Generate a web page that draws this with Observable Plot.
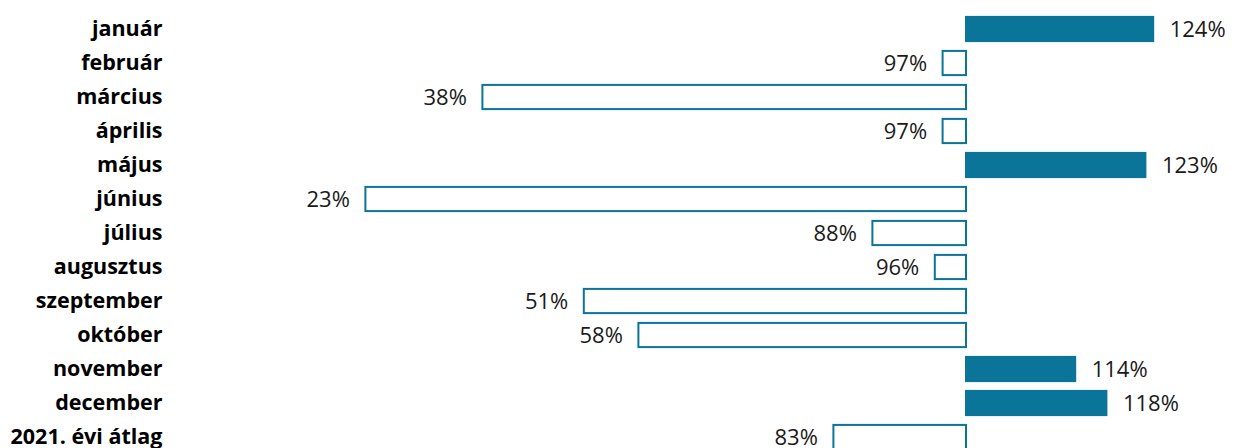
<!DOCTYPE html>
<html>
<head>
<meta charset="utf-8">
<script src="https://cdn.jsdelivr.net/npm/d3@7"></script>
<script src="https://cdn.jsdelivr.net/npm/@observablehq/plot@0.6"></script>
<style>
  html, body { margin: 0; padding: 0; background: #fff; overflow: hidden; }
</style>
</head>
<body>
<div id="chart"></div>
<script>
const months = ["január", "február", "március", "április", "május", "június", "július", "augusztus", "szeptember", "október", "november", "december", "2021. évi átlag"];
const values = [124, 97, 38, 97, 123, 23, 88, 96, 51, 58, 114, 118, 83];
const baseline = 100;

const data = months.map((m, i) => ({month: m, value: values[i]}));
const color = "#0a7499";

const chart = Plot.plot({
  width: 1234,
  height: 448,
  marginTop: 10,
  marginBottom: 0,
  marginLeft: 186,
  marginRight: 34,
  style: {fontFamily: "'Open Sans', sans-serif", fontSize: "21px", background: "#fff", overflow: "hidden"},
  x: {domain: [0, 130], axis: null},
  y: {domain: months, padding: 0, range: [10, 456], axis: null},
  marks: [
    Plot.barX(data, {
      y: "month", x1: baseline, x2: "value",
      insetTop: 4.9, insetBottom: 4.9,
      fill: d => d.value >= baseline ? color : "#fff",
      stroke: color, strokeWidth: 2
    }),
    Plot.text(months, {
      x: 0, y: d => d, text: d => d,
      textAnchor: "end", dx: -24, fontWeight: "bold", fontSize: 21.5, fill: "#000"
    }),
    Plot.text(data.filter(d => d.value >= baseline), {
      x: "value", y: "month", text: d => d.value + "%",
      textAnchor: "start", dx: 16, fontSize: 22, fill: "#1a1a1a"
    }),
    Plot.text(data.filter(d => d.value < baseline), {
      x: "value", y: "month", text: d => d.value + "%",
      textAnchor: "end", dx: -16, fontSize: 22, fill: "#1a1a1a"
    })
  ]
});
document.getElementById("chart").appendChild(chart);
</script>
</body>
</html>
